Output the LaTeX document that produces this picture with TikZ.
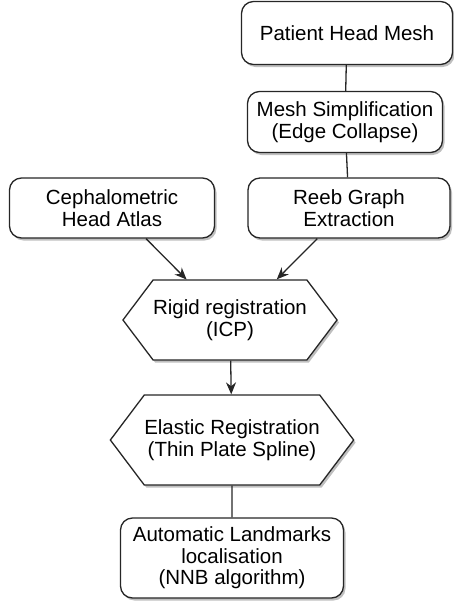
\documentclass[tikz,border=0pt]{standalone}
\usepackage{fontspec}
\setmainfont{Liberation Sans}
\usetikzlibrary{shapes.symbols,shadows,arrows.meta}

\begin{document}
\begin{tikzpicture}[x=1pt,y=-1pt,
  every node/.style={font=\fontsize{20.5}{21.5}\selectfont, align=center, inner sep=0pt},
  stepbox/.style={draw=black!85, line width=1.3pt, rounded corners=12pt, fill=white,
    drop shadow={shadow xshift=2pt, shadow yshift=-2.5pt, opacity=.5}},
  hexbox/.style={draw=black!85, line width=1.3pt, shape=signal, signal to=west and east,
    signal pointer angle=106, fill=white,
    drop shadow={shadow xshift=2pt, shadow yshift=-2.5pt, opacity=.5}},
  link/.style={line width=1.3pt, black!85},
  arr/.style={link, -{Stealth[length=12pt,width=10pt]}}]
 \useasboundingbox (0,0) rectangle (454,606);
  \node[stepbox, minimum width=211pt, minimum height=63pt] (patient) at (347,33) {Patient Head Mesh};
  \node[stepbox, minimum width=195pt, minimum height=61pt] (mesh) at (345,122) {Mesh Simplification\\(Edge Collapse)};
  \node[stepbox, minimum width=202pt, minimum height=60pt] (reeb) at (349,208) {Reeb Graph\\Extraction};
  \node[stepbox, minimum width=205pt, minimum height=60pt] (atlas) at (112,208) {Cephalometric\\Head Atlas};
  \node[hexbox, minimum width=205pt, minimum height=80pt] (rigid) at (230,320) {Rigid registration\\(ICP)};
  \node[hexbox, minimum width=241pt, minimum height=90pt] (elastic) at (232,440) {Elastic Registration\\(Thin Plate Spline)};
  \node[stepbox, minimum width=223pt, minimum height=80pt] (landmarks) at (232,558) {Automatic Landmarks\\localisation\\(NNB algorithm)};
  \draw[link] (patient) -- (mesh);
  \draw[link] (mesh) -- (reeb);
  \draw[arr] (atlas.-42) -- (rigid.137);
  \draw[arr] (reeb.-136) -- (rigid.41);
  \draw[arr] (rigid) -- (elastic);
  \draw[link] (elastic) -- (landmarks);
\end{tikzpicture}
\end{document}
